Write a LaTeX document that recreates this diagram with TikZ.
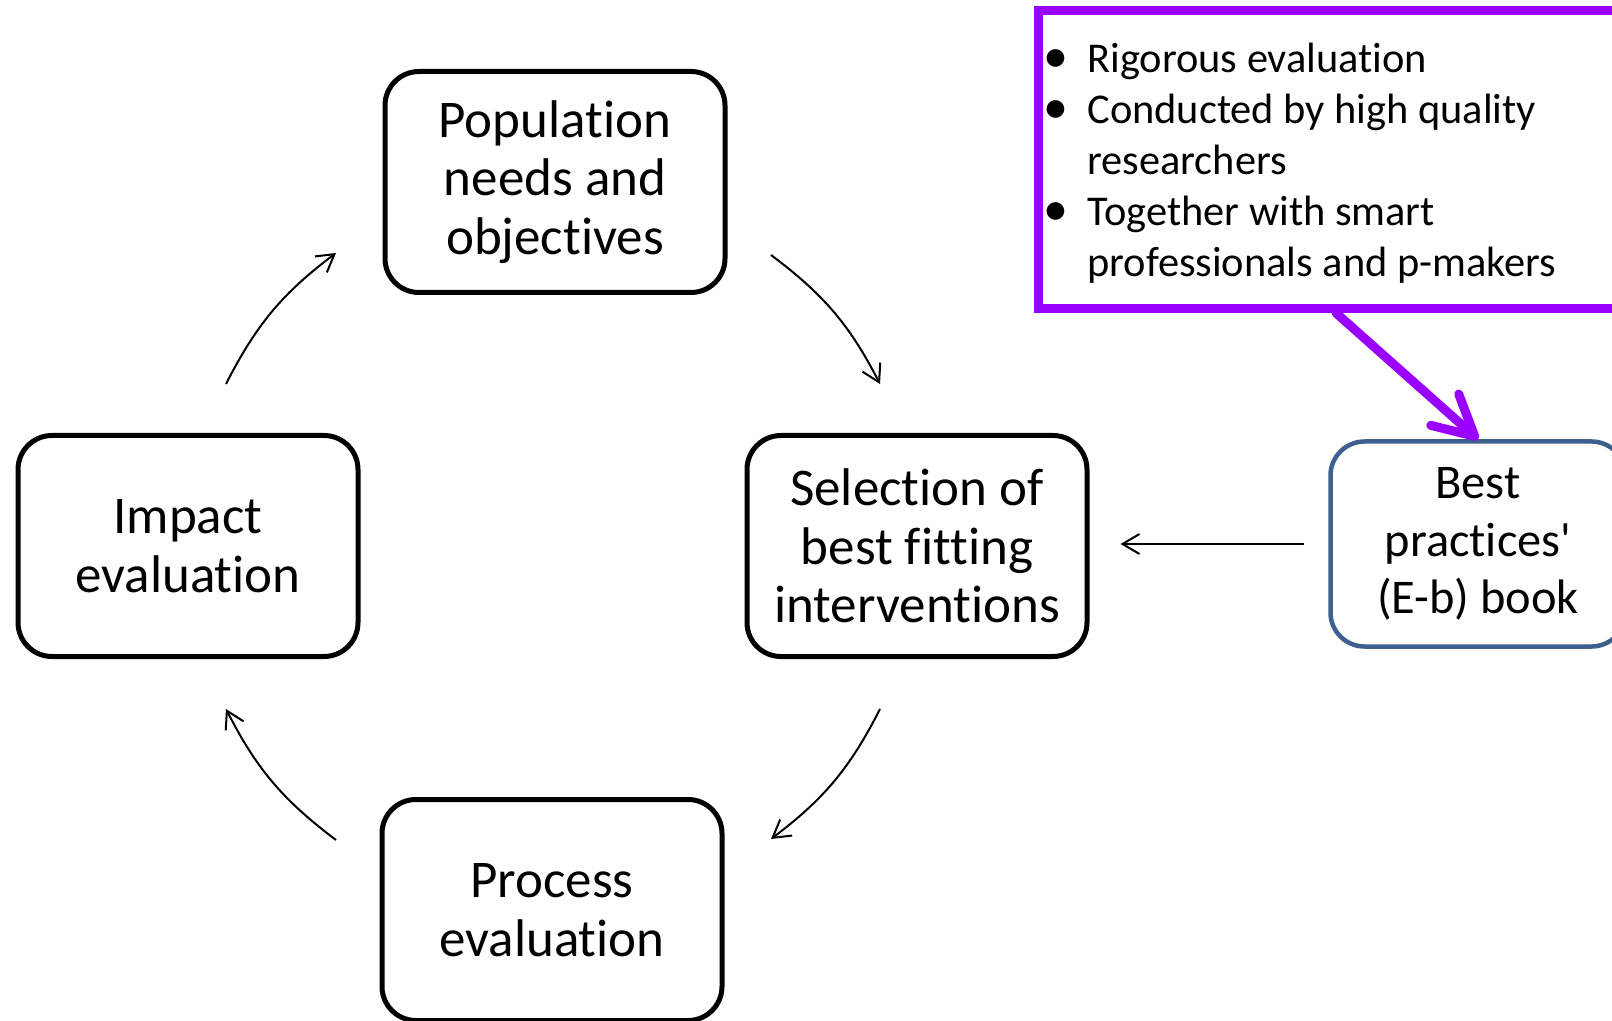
\documentclass[tikz,border=0pt]{standalone}
\usepackage{fontspec}
\setmainfont{Carlito}[Ligatures={NoCommon}]
\usetikzlibrary{arrows.meta, positioning}
\definecolor{bookblue}{RGB}{62,96,142}
\definecolor{notepurple}{RGB}{153,0,255}
\newcommand{\critdot}{{\fontsize{25}{0}\selectfont\textbullet}}

\begin{document}
\begin{tikzpicture}[
        yscale=-1,
        x=0.5pt,
        y=0.5pt,
        >={Straight Barb[length=8.5pt, width=10pt]},
        every node/.style={font=\fontsize{26.5}{29.3}\selectfont, align=center},
        stage/.style={draw, line width=2.5pt, rounded corners=17pt,
                minimum width=170pt, minimum height=110.5pt, inner sep=0pt},
        book/.style={stage, draw=bookblue, line width=2.25pt,
                font=\fontsize{24.2}{28.8}\selectfont,
                minimum width=147.5pt, minimum height=102.5pt},
        note/.style={draw=notepurple, line width=4.5pt,
                minimum width=298pt, minimum height=149pt, inner sep=0pt},
        cyclearrow/.style={->, line width=1pt, bend right=13},
        notearrow/.style={-{Straight Barb[length=20pt, width=21pt, line cap=round, line join=round]},
                draw=notepurple, line width=4.5pt, line cap=round}
    ]
    \clip (0,0) rectangle (1612,1021);

    % the cycle
    \node[stage] (needs) at (555,182) {Population\\needs and\\objectives};
    \node[stage] (select) at (917,546) {Selection of\\best fitting\\interventions};
    \node[stage] (process) at (552,910) {Process\\evaluation};
    \node[stage] (impact) at (188,546) {Impact\\evaluation};

    % source of evidence
    \node[book] (book) at (1478,544) {Best\\practices\textquotesingle\\(E-b) book};
    \node[note] (crit) at (1336,159.5) {};
    \node[anchor=base west, inner sep=0pt, align=left,
        font=\fontsize{21.2}{25.5}\selectfont] (critlist) at (1043,73) {%
        \begin{tabular}[t]{@{}p{22pt}@{}l@{}}
            \critdot & Rigorous evaluation\\
            \critdot & Conducted by high quality\\
                     & researchers\\
            \critdot & Together with smart\\
                     & professionals and p-makers
        \end{tabular}};

    \coordinate (a1s) at (771,255);
    \coordinate (a1e) at (880,384);
    \coordinate (a2s) at (880,709);
    \coordinate (a2e) at (771,839);
    \coordinate (a3s) at (336,840);
    \coordinate (a3e) at (226,709);
    \coordinate (a4s) at (226,384);
    \coordinate (a4e) at (336,253);

    \draw[cyclearrow] (a1s) to (a1e);
    \draw[cyclearrow] (a2s) to (a2e);
    \draw[cyclearrow] (a3s) to (a3e);
    \draw[cyclearrow] (a4s) to (a4e);

    \draw[->, line width=1pt, shorten <=12pt, shorten >=15.5pt] (book.west) -- (book.west -| select.east);
    \draw[notearrow] (crit.south) -- (book.north);
\end{tikzpicture}
\end{document}
